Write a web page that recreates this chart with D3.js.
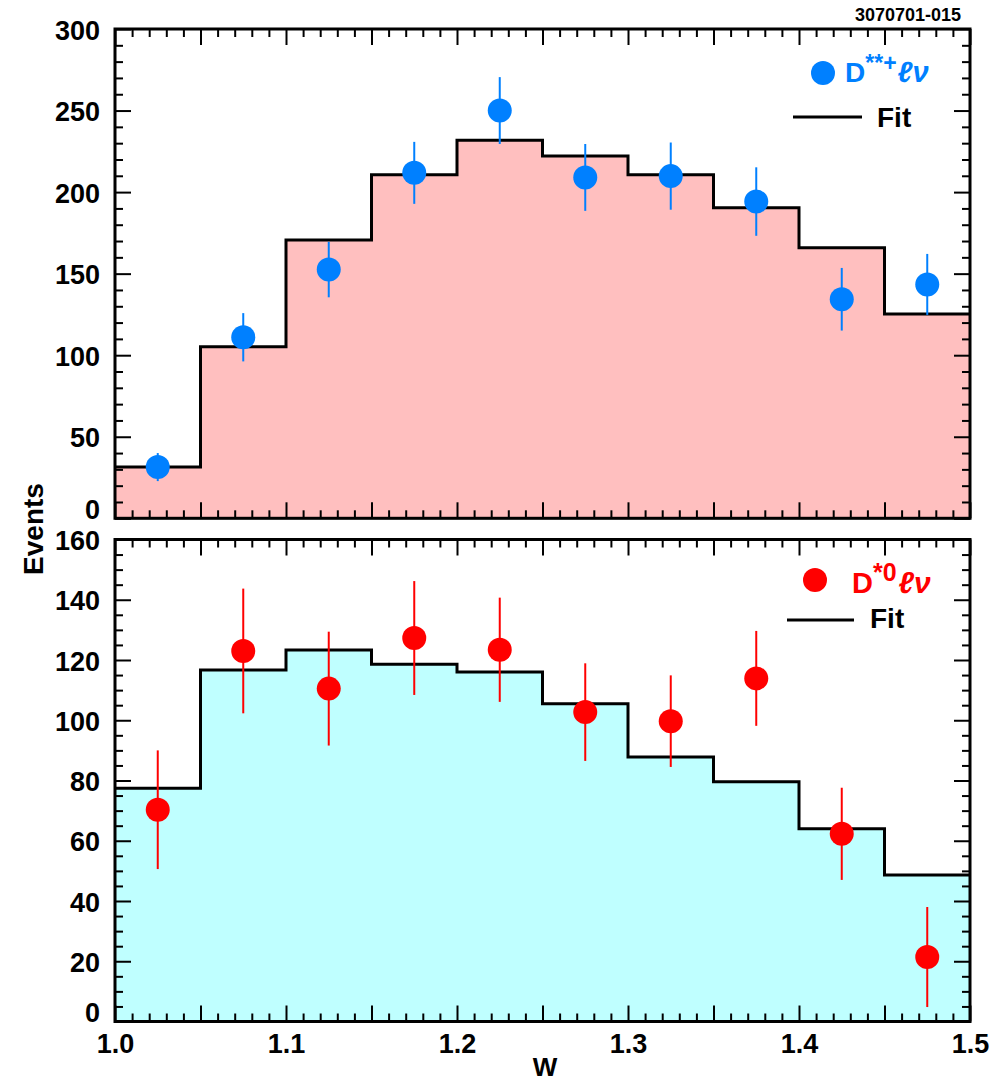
<!DOCTYPE html>
<html>
<head>
<meta charset="utf-8">
<script src="https://cdn.jsdelivr.net/npm/d3@7"></script>
<style>
  html, body { margin: 0; padding: 0; background: #fff; }
  svg { display: block; }
  text { font-family: "Liberation Sans", Arial, sans-serif; font-weight: bold; fill: #000; }
</style>
</head>
<body>
<svg id="chart" width="1008" height="1081"></svg>
<script>
// ---------------- data ----------------
const binEdges = [1.0, 1.05, 1.1, 1.15, 1.2, 1.25, 1.3, 1.35, 1.4, 1.45, 1.5];
const binCenters = [1.025, 1.075, 1.125, 1.175, 1.225, 1.275, 1.325, 1.375, 1.425, 1.475];

const chargedFit  = [31.4, 105.2, 170.6, 210.7, 231.8, 222.1, 210.7, 190.4, 165.9, 125.3];
const chargedData = [31.4, 111.0, 152.5, 211.8, 250.0, 209.0, 209.8, 194.2, 134.3, 143.4];
const chargedErr  = [8.6, 14.8, 17.0, 19.0, 20.5, 20.5, 20.6, 21.0, 19.2, 18.7];

const neutralFit  = [77.4, 116.7, 123.3, 118.6, 116.0, 105.5, 87.8, 79.6, 64.0, 48.6];
const neutralData = [70.3, 123.0, 110.5, 127.3, 123.4, 102.7, 99.7, 113.9, 62.3, 21.4];
const neutralErr  = [19.7, 20.7, 18.9, 18.9, 17.3, 16.2, 15.2, 15.75, 15.3, 16.6];

const xTickLabels = [1.0, 1.1, 1.2, 1.3, 1.4, 1.5];
const topYTicks = [0, 50, 100, 150, 200, 250, 300];
const botYTicks = [0, 20, 40, 60, 80, 100, 120, 140, 160];

// ---------------- layout ----------------
const svg = d3.select("#chart");
const left = 115, right = 970;
const x = d3.scaleLinear().domain([1.0, 1.5]).range([left, right]);

const panels = [
  { top: 29, bottom: 518.3, ymax: 300, yMajor: topYTicks, yMinorStep: 10,
    fit: chargedFit, data: chargedData, err: chargedErr,
    fill: "#ffbfbf", color: "#0080ff", xLabels: false },
  { top: 539.5, bottom: 1021.5, ymax: 160, yMajor: botYTicks, yMinorStep: 5,
    fit: neutralFit, data: neutralData, err: neutralErr,
    fill: "#bfffff", color: "#ff0000", xLabels: true }
];

const xMajor = d3.range(0, 11).map(i => +(1.0 + i * 0.05).toFixed(2));
const xMinor = d3.range(0, 51).map(i => +(1.0 + i * 0.01).toFixed(2)).filter(v => !xMajor.some(m => Math.abs(m - v) < 1e-9));

panels.forEach(p => {
  const y = d3.scaleLinear().domain([0, p.ymax]).range([p.bottom, p.top]);
  const g = svg.append("g");
  const yMinor = d3.range(0, p.ymax + 0.001, p.yMinorStep).filter(v => !p.yMajor.includes(v));

  // histogram (fit)
  const stepVals = p.fit.concat([p.fit[p.fit.length - 1]]);
  const area = d3.area()
    .x((d, i) => x(binEdges[i]))
    .y0(y(0))
    .y1(d => y(d))
    .curve(d3.curveStepAfter);
  g.append("path").datum(stepVals).attr("d", area).attr("fill", p.fill);
  const line = d3.line()
    .x((d, i) => x(binEdges[i]))
    .y(d => y(d))
    .curve(d3.curveStepAfter);
  g.append("path").datum(stepVals).attr("d", line)
    .attr("fill", "none").attr("stroke", "#000").attr("stroke-width", 3);

  // error bars
  g.selectAll(".eb").data(p.data).enter().append("line")
    .attr("x1", (d, i) => x(binCenters[i]))
    .attr("x2", (d, i) => x(binCenters[i]))
    .attr("y1", (d, i) => y(d - p.err[i]))
    .attr("y2", (d, i) => y(d + p.err[i]))
    .attr("stroke", p.color).attr("stroke-width", 2);
  // markers
  g.selectAll(".pt").data(p.data).enter().append("circle")
    .attr("cx", (d, i) => x(binCenters[i]))
    .attr("cy", d => y(d))
    .attr("r", 12)
    .attr("fill", p.color);

  // ticks (inward) on all sides
  const tickStyle = sel => {
    sel.select(".domain").remove();
    sel.selectAll("line").attr("stroke", "#000").attr("stroke-width", 2);
  };
  const leftAx = g.append("g").attr("transform", `translate(${left},0)`)
    .call(d3.axisLeft(y).tickValues(p.yMajor).tickSizeInner(-16).tickSizeOuter(0).tickPadding(15).tickFormat(d3.format("d")));
  tickStyle(leftAx);
  leftAx.selectAll("text")
    .attr("font-size", 27).attr("font-family", "Liberation Sans, Arial, sans-serif").attr("font-weight", "bold")
    .attr("fill", "#000")
    .attr("dy", d => d === 0 ? "0px" : "10px");
  tickStyle(g.append("g").attr("transform", `translate(${left},0)`)
    .call(d3.axisLeft(y).tickValues(yMinor).tickSizeInner(-8).tickSizeOuter(0).tickFormat("")));
  tickStyle(g.append("g").attr("transform", `translate(${right},0)`)
    .call(d3.axisRight(y).tickValues(p.yMajor).tickSizeInner(-16).tickSizeOuter(0).tickFormat("")));
  tickStyle(g.append("g").attr("transform", `translate(${right},0)`)
    .call(d3.axisRight(y).tickValues(yMinor).tickSizeInner(-8).tickSizeOuter(0).tickFormat("")));
  const botAx = g.append("g").attr("transform", `translate(0,${p.bottom})`)
    .call(d3.axisBottom(x).tickValues(xMajor).tickSizeInner(-16).tickSizeOuter(0).tickPadding(12)
      .tickFormat(d => (p.xLabels && xTickLabels.some(v => Math.abs(v - d) < 1e-9)) ? d3.format(".1f")(d) : ""));
  tickStyle(botAx);
  botAx.selectAll("text")
    .attr("font-size", 27).attr("font-family", "Liberation Sans, Arial, sans-serif").attr("font-weight", "bold")
    .attr("fill", "#000");
  tickStyle(g.append("g").attr("transform", `translate(0,${p.bottom})`)
    .call(d3.axisBottom(x).tickValues(xMinor).tickSizeInner(-8).tickSizeOuter(0).tickFormat("")));
  tickStyle(g.append("g").attr("transform", `translate(0,${p.top})`)
    .call(d3.axisTop(x).tickValues(xMajor).tickSizeInner(-16).tickSizeOuter(0).tickFormat("")));
  tickStyle(g.append("g").attr("transform", `translate(0,${p.top})`)
    .call(d3.axisTop(x).tickValues(xMinor).tickSizeInner(-8).tickSizeOuter(0).tickFormat("")));

  // frame
  g.append("rect")
    .attr("x", left).attr("y", p.top)
    .attr("width", right - left).attr("height", p.bottom - p.top)
    .attr("fill", "none").attr("stroke", "#000").attr("stroke-width", 3);
});

// ---------------- legends ----------------
svg.append("circle").attr("cx", 823).attr("cy", 73).attr("r", 12).attr("fill", "#0080ff");
const t1 = svg.append("text").attr("x", 845).attr("y", 82).attr("font-size", 28).style("fill", "#0080ff");
t1.append("tspan").text("D");
t1.append("tspan").attr("font-size", 23).attr("dy", -11).text("**+");
t1.append("tspan").attr("font-size", 29).attr("dy", 11).attr("dx", 1).attr("font-style", "italic").text("ℓν");
svg.append("line").attr("x1", 793).attr("x2", 862).attr("y1", 117).attr("y2", 117).attr("stroke", "#000").attr("stroke-width", 3);
svg.append("text").attr("x", 877).attr("y", 127).attr("font-size", 28).text("Fit");

svg.append("circle").attr("cx", 815).attr("cy", 580).attr("r", 12).attr("fill", "#ff0000");
const t2 = svg.append("text").attr("x", 852).attr("y", 593).attr("font-size", 29).style("fill", "#ff0000");
t2.append("tspan").text("D");
t2.append("tspan").attr("font-size", 25).attr("dy", -12).text("*0");
t2.append("tspan").attr("font-size", 30).attr("dy", 12).attr("dx", 2).attr("font-style", "italic").text("ℓν");
svg.append("line").attr("x1", 787).attr("x2", 854).attr("y1", 620).attr("y2", 620).attr("stroke", "#000").attr("stroke-width", 3);
svg.append("text").attr("x", 870).attr("y", 628).attr("font-size", 28).text("Fit");

// ---------------- labels ----------------
svg.append("text").attr("x", 961).attr("y", 21).attr("text-anchor", "end").attr("font-size", 18).text("3070701-015");
svg.append("text").attr("transform", "translate(43,529) rotate(-90)").attr("text-anchor", "middle").attr("font-size", 28).text("Events");
svg.append("text").attr("x", 545).attr("y", 1076).attr("text-anchor", "middle").attr("font-size", 26).text("W");
</script>
</body>
</html>
